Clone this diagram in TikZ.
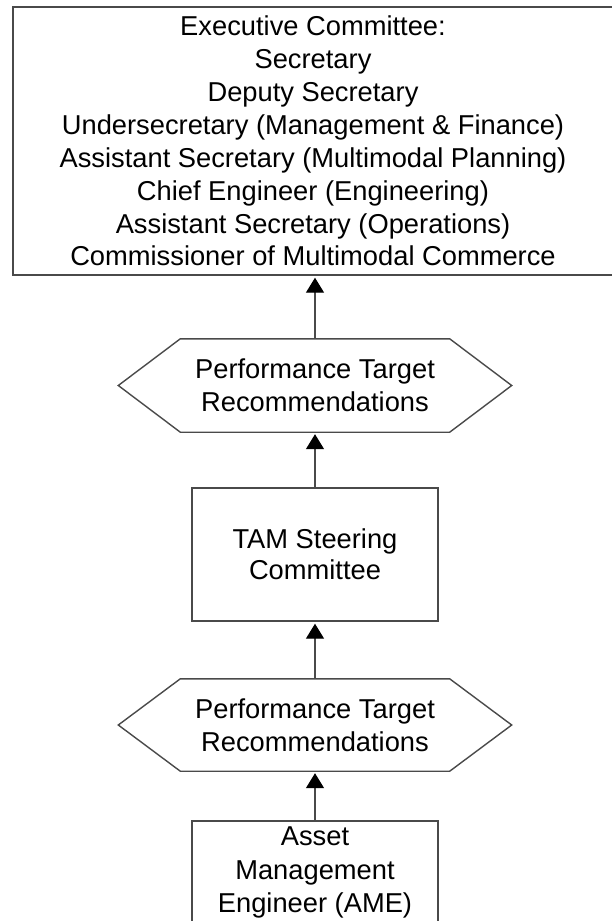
\documentclass[tikz,border=0pt]{standalone}
\usepackage{fontspec}
\setmainfont{Liberation Sans}
\usetikzlibrary{arrows.meta}
\definecolor{linegray}{HTML}{4A4A4A}
\begin{document}
\begin{tikzpicture}[x=1pt,y=-1pt,
  txt/.style={align=center, inner sep=0pt, text=black, font=\fontsize{27.3}{32.9}\selectfont},
  box/.style={txt, draw=linegray, line width=1.4pt},
  hexlabel/.style={txt, font=\fontsize{27.3}{32.5}\selectfont},
  hexline/.style={draw=linegray, line width=1.4pt, line join=miter},
  arr/.style={draw=linegray, line width=1.4pt, shorten >=2pt, -{Triangle[length=15pt,width=18pt,color=black]}}]
\useasboundingbox (0,0) rectangle (612,921);
\clip (0,0) rectangle (612,921);
\fill[white] (0,0) rectangle (612,921);

\node[box, minimum width=600pt, minimum height=268pt] (top) at (313,141)
  {Executive Committee:\\Secretary\\Deputy Secretary\\Undersecretary (Management \& Finance)\\Assistant Secretary (Multimodal Planning)\\Chief Engineer (Engineering)\\Assistant Secretary (Operations)\\Commissioner of Multimodal Commerce};

\node[hexlabel, minimum width=269pt, minimum height=93pt] (h1) at (315,385.5)
  {Performance Target\\Recommendations};
\draw[hexline] (h1.north west) -- (h1.north east) -- ([xshift=62pt]h1.east) -- (h1.south east) -- (h1.south west) -- ([xshift=-62pt]h1.west) -- cycle;

\node[box, font=\fontsize{27.3}{31}\selectfont, minimum width=246pt, minimum height=133pt] (tam) at (315,554.5)
  {TAM Steering\\Committee};

\node[hexlabel, minimum width=269pt, minimum height=92pt] (h2) at (315,725)
  {Performance Target\\Recommendations};
\draw[hexline] (h2.north west) -- (h2.north east) -- ([xshift=62pt]h2.east) -- (h2.south east) -- (h2.south west) -- ([xshift=-62pt]h2.west) -- cycle;

\node[box, font=\fontsize{27.3}{33.5}\selectfont, minimum width=246pt, minimum height=103pt] (ame) at (315,872.5)
  {Asset\\Management\\Engineer (AME)};

\draw[arr] (h1.north) -- (h1.north |- top.south);
\draw[arr] (tam.north) -- (tam.north |- h1.south);
\draw[arr] (h2.north) -- (h2.north |- tam.south);
\draw[arr] (ame.north) -- (ame.north |- h2.south);
\end{tikzpicture}
\end{document}
